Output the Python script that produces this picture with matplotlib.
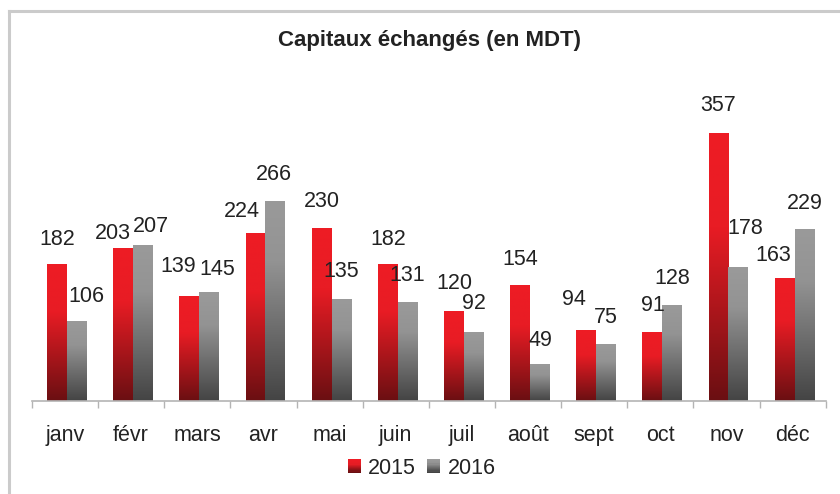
import numpy as np
import matplotlib.pyplot as plt
from matplotlib.colors import LinearSegmentedColormap
from matplotlib.patches import Rectangle
from matplotlib.lines import Line2D
from matplotlib.legend_handler import HandlerBase

plt.rcParams['font.family'] = ['Liberation Sans', 'DejaVu Sans']

# data
months = ['janv', 'févr', 'mars', 'avr', 'mai', 'juin',
          'juil', 'août', 'sept', 'oct', 'nov', 'déc']
vals_2015 = [182, 203, 139, 224, 230, 182, 120, 154, 94, 91, 357, 163]
vals_2016 = [106, 207, 145, 266, 135, 131, 92, 49, 75, 128, 178, 229]
series_names = ['2015', '2016']

# hand-placed label nudges (pixels), like in the original workbook
dx15 = [0, -10, -11, -14, 0, 0, 0, 0, -12, 0, 0, -11]
dy15 = [25, 15, 30, 22, 27, 25, 28, 26, 31, 27, 28, 23]
dx16 = [9, 8, 8, -1, 0, 0, 0, 0, 0, 0, 7, 0]
dy16 = [25, 19, 23, 27, 28, 27, 29, 24, 27, 27, 39, 26]

# gradients, top -> bottom
red_cmap = LinearSegmentedColormap.from_list(
    'red_grad', [(0, '#ee1c25'), (0.35, '#e81c24'), (1, '#6a0f12')])
gray_cmap = LinearSegmentedColormap.from_list(
    'gray_grad', [(0, '#9a9a9a'), (0.3, '#939393'), (1, '#444444')])

text_col = '#222222'
axis_col = '#b4b4b4'

fig = plt.figure(figsize=(8.4, 4.94), dpi=100)
ax = fig.add_axes([0.038, 0.188, 0.945, 0.607])

x = np.arange(len(months))
w = 0.3
grad = np.linspace(0, 1, 256).reshape(-1, 1)


def gradient_bars(xpos, values, cmap):
    bars = ax.bar(xpos, values, w, color='none', edgecolor='none')
    for bar in bars:
        x0, y0 = bar.get_x(), bar.get_y()
        x1, y1 = x0 + bar.get_width(), y0 + bar.get_height()
        ax.imshow(grad, cmap=cmap, aspect='auto', extent=(x0, x1, y0, y1),
                  origin='upper', zorder=2)
    return bars


bars15 = gradient_bars(x + 0.03 - w / 2, vals_2015, red_cmap)
bars16 = gradient_bars(x + 0.03 + w / 2, vals_2016, gray_cmap)

px = 0.72  # points per pixel at 100 dpi
for bars, vals, dxs, dys in [(bars15, vals_2015, dx15, dy15),
                             (bars16, vals_2016, dx16, dy16)]:
    for bar, v, dx, dy in zip(bars, vals, dxs, dys):
        ax.annotate(str(v), xy=(bar.get_x() + bar.get_width() / 2, v),
                    xytext=(dx * px, dy * px), textcoords='offset points',
                    ha='center', va='center', fontsize=15.5, color=text_col)

ax.set_xlim(-0.5, len(months) - 0.5)
ax.set_ylim(0, 400)
ax.set_xticks(x)
ax.set_xticklabels(months, fontsize=15.5, color=text_col)
ax.tick_params(axis='x', which='major', length=0, pad=17)
ax.set_xticks(np.arange(len(months) + 1) - 0.5, minor=True)
ax.tick_params(axis='x', which='minor', length=5, color=axis_col, width=1)
ax.set_yticks([])
for s in ['top', 'right', 'left']:
    ax.spines[s].set_visible(False)
ax.spines['bottom'].set_color(axis_col)
ax.spines['bottom'].set_linewidth(1.2)
ax.spines['bottom'].set_zorder(3)


class GradientHandler(HandlerBase):
    def __init__(self, cmap):
        super().__init__()
        self.cmap = cmap

    def create_artists(self, legend, orig_handle, xdescent, ydescent,
                       width, height, fontsize, trans):
        n = 12
        arts = []
        for i in range(n):
            r = Rectangle((-xdescent, -ydescent + height * (n - 1 - i) / n),
                          width, height / n + 0.3,
                          facecolor=self.cmap(i / (n - 1)), edgecolor='none',
                          transform=trans)
            arts.append(r)
        return arts


h15 = Rectangle((0, 0), 1, 1)
h16 = Rectangle((0, 0), 1, 1)
fig.legend([h15, h16], series_names, loc='center', bbox_to_anchor=(0.502, 0.052),
           ncol=2, frameon=False, fontsize=15.5, handlelength=0.62,
           handleheight=0.62, handletextpad=0.33, columnspacing=0.5,
           labelcolor=text_col,
           handler_map={h15: GradientHandler(red_cmap),
                        h16: GradientHandler(gray_cmap)})

fig.text(0.511, 0.918, 'Capitaux échangés (en MDT)', ha='center', va='center',
         fontsize=16, fontweight='bold', color=text_col)

# chart frame (top and left visible)
fig.add_artist(Line2D([0.0107, 1.0], [0.978, 0.978], color='#cbcbcb', lw=2.2,
                      transform=fig.transFigure))
fig.add_artist(Line2D([0.0107, 0.0107], [0.0, 0.978], color='#cbcbcb', lw=2.2,
                      transform=fig.transFigure))

fig.savefig('out.png', dpi=100)
